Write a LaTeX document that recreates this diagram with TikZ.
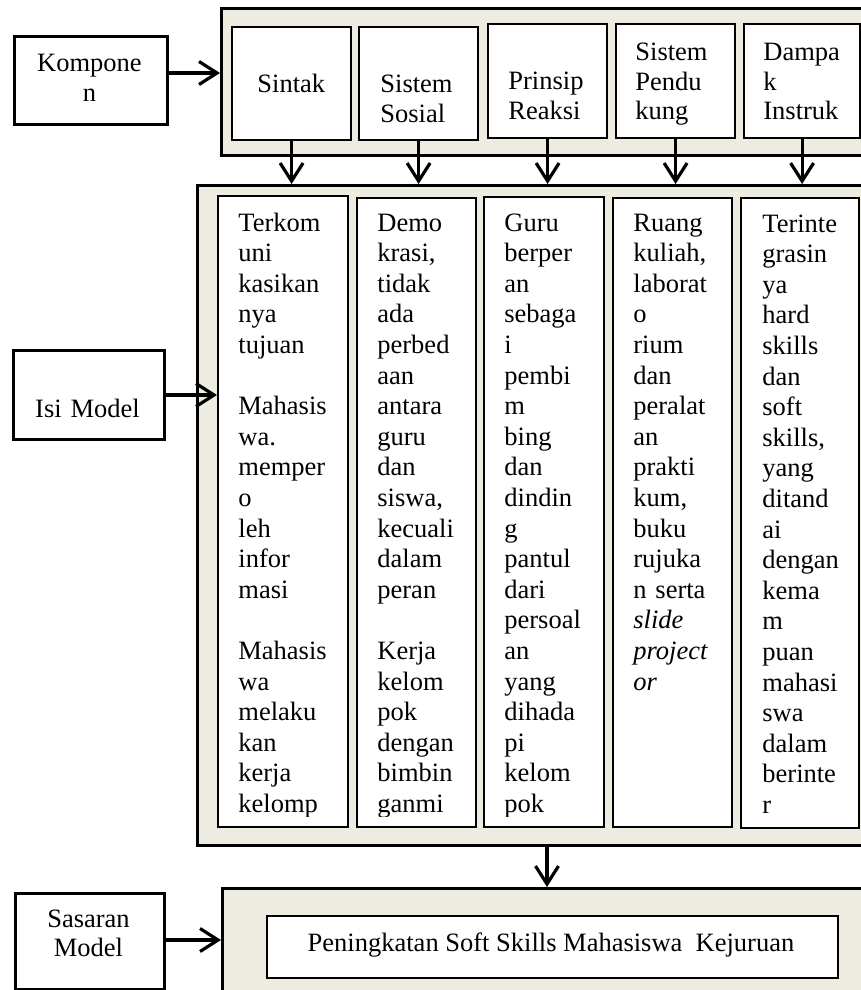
\documentclass[tikz,border=0pt]{standalone}
\usepackage{fontspec}
\setmainfont{Liberation Serif}
\usetikzlibrary{arrows.meta}
\definecolor{panel}{RGB}{238,236,225}

% rectangle node given by its corners: name, style, x1, y1, x2, y2
\newcommand{\cornernode}[6]{%
  \node[#2, anchor=north west, inner sep=0pt,
        minimum width={(#5-#3)*0.5pt}, minimum height={(#6-#4)*0.5pt}] (#1) at (#3,#4) {};}

\begin{document}
\begin{tikzpicture}[x=0.5pt, y=-0.5pt,
  panelbox/.style={draw=black, fill=panel, line width=1.6pt},
  cellbox/.style={draw=black, fill=white, line width=1.1pt},
  sidebox/.style={draw=black, fill=white, line width=1.3pt},
  flow/.style={line width=1.6pt, -{Straight Barb[length=9pt, width=11.5pt]}},
  headtext/.style={inner sep=0pt, anchor=base west, text width=60pt, align=left,
                   font=\fontsize{13.25}{14.6}\selectfont},
  coltext/.style={inner sep=0pt, anchor=base west, text width=60pt, align=left,
                  font=\fontsize{13.25}{15.3}\selectfont},
  sidetext/.style={inner sep=0pt, anchor=base, text width=74pt, align=center,
                   font=\fontsize{13.25}{14.6}\selectfont}]

\useasboundingbox (0,0) rectangle (861,990);
\clip (0,0) rectangle (861,990);

% three shaded panels
\cornernode{top}{panelbox}{220}{7}{900}{154}
\cornernode{mid}{panelbox}{196}{184}{900}{844}
\cornernode{bot}{panelbox}{221}{887}{900}{1010}

% left-hand labels
\cornernode{komp}{sidebox}{13}{35}{166}{123}
\cornernode{isi}{sidebox}{12}{349}{163}{438}
\cornernode{sas}{sidebox}{14}{892}{163}{988}
\node[sidetext] (kompT) at (89.5,72) {Kompone\\n};
\node[sidetext] (isiT) at (87.5,417) {Isi Model};
\node[sidetext] (sasT) at (88.5,927) {Sasaran\\Model};

% component headings
\cornernode{sintak}{cellbox}{231}{26}{350}{139}
\cornernode{sosial}{cellbox}{358}{26}{477}{139}
\cornernode{prinsip}{cellbox}{487}{23}{606}{137}
\cornernode{dukung}{cellbox}{615}{23}{734}{137}
\cornernode{dampak}{cellbox}{743}{23}{859}{137}
\node[headtext] (sintakT) at (257,93) {Sintak};
\node[headtext] (sosialT) at (380,93) {Sistem\\Sosial};
\node[headtext] (prinsipT) at (508,90) {Prinsip\\Reaksi};
\node[headtext] (dukungT) at (635,61) {Sistem\\Pendu\\kung};
\node[headtext] (dampakT) at (763,61) {Dampa\\k\\Instruk};

% content columns
\cornernode{col1}{cellbox}{217}{195}{347}{826}
\cornernode{col2}{cellbox}{356}{197}{475}{826}
\cornernode{col3}{cellbox}{483}{196}{603}{826}
\cornernode{col4}{cellbox}{612}{197}{731}{826}
\cornernode{col5}{cellbox}{740}{197}{858}{827}

\begin{scope}
  \clip (0,0) rectangle (861,816);
  \node[coltext] (col1T) at (238,231) {Terkom\\uni\\kasikan\\nya\\tujuan\\[\baselineskip]Mahasis\\wa.\\memper\\o\\leh\\infor\\masi\\[\baselineskip]Mahasis\\wa\\melaku\\kan\\kerja\\kelomp};
  \node[coltext] (col2T) at (377,231) {Demo\\krasi,\\tidak\\ada\\perbed\\aan\\antara\\guru\\dan\\siswa,\\kecuali\\dalam\\peran\\[\baselineskip]Kerja\\kelom\\pok\\dengan\\bimbin\\ganmi};
  \node[coltext] (col3T) at (504,231) {Guru\\berper\\an\\sebaga\\i\\pembi\\m\\bing\\dan\\dindin\\g\\pantul\\dari\\persoal\\an\\yang\\dihada\\pi\\kelom\\pok};
  \node[coltext] (col4T) at (633,231) {Ruang\\kuliah,\\laborat\\o\\rium\\dan\\peralat\\an\\prakti\\kum,\\buku\\rujuka\\n serta\\\textit{slide}\\\textit{project}\\\textit{or}};
  \node[coltext] (col5T) at (762,232) {Terinte\\grasin\\ya\\hard\\skills\\dan\\soft\\skills,\\yang\\ditand\\ai\\dengan\\kema\\m\\puan\\mahasi\\swa\\dalam\\berinte\\r};
\end{scope}

% target box
\cornernode{goal}{cellbox}{266}{915}{837}{977}
\node[inner sep=0pt, anchor=base, font=\fontsize{13.25}{14.6}\selectfont] (goalT) at (551,951)
  {Peningkatan Soft Skills Mahasiswa\ \ Kejuruan};

% connectors
\coordinate (kRow) at (0,73);
\coordinate (iRow) at (0,395);
\coordinate (sRow) at (0,940);
\coordinate (dCol) at (547,0);
\draw[flow] (komp.east |- kRow) -- (top.west |- kRow);
\draw[flow] (isi.east |- iRow) -- (col1.west |- iRow);
\draw[flow] (sas.east |- sRow) -- (bot.west |- sRow);
\foreach \h in {sintak, sosial, prinsip, dukung, dampak}
  \draw[flow] (\h.south) -- (\h.south |- mid.north);
\draw[flow] (mid.south -| dCol) -- (bot.north -| dCol);

\end{tikzpicture}
\end{document}
